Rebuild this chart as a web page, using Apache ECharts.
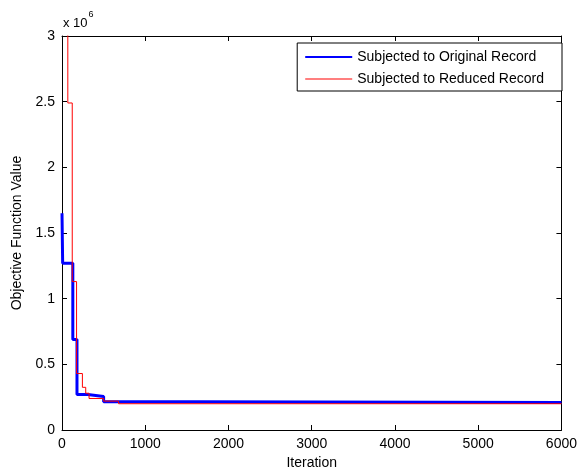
<!DOCTYPE html>
<html>
<head>
<meta charset="utf-8">
<script src="https://cdn.jsdelivr.net/npm/echarts@6/dist/echarts.min.js"></script>
<style>html,body{margin:0;padding:0;background:#fff}#c{width:580px;height:475px}</style>
</head>
<body>
<div id="c"></div>
<script>
var seriesNames = ['Subjected to Original Record', 'Subjected to Reduced Record'];
var originalIter  = [0,       8,       130,     180,     310,      500,      1630,     6000];
var originalValue = [1.65e6,  1.27e6,  0.69e6,  0.27e6,  0.255e6,  0.215e6,  0.209e6,  0.209e6];
var reducedIter   = [0,       70,      123,     175,     245,      285,      325,      500,     680,     6000];
var reducedValue  = [4.5e6,   2.49e6,  1.13e6,  0.43e6,  0.325e6,  0.28e6,   0.24e6,   0.22e6,  0.2e6,   0.2e6];
var xTicks = [0, 1000, 2000, 3000, 4000, 5000, 6000];
var yTickLabels = ['0', '0.5', '1', '1.5', '2', '2.5', '3'];

function pairs(xs, ys) { return xs.map(function (x, i) { return [x, ys[i]]; }); }

var font = 'Liberation Sans, Arial, Helvetica, sans-serif';
var fs = 14;
var chart = echarts.init(document.getElementById('c'), null, {renderer: 'canvas'});
chart.setOption({
  animation: false,
  backgroundColor: '#fff',
  grid: {left: 62, right: 14, top: 36, bottom: 42},
  textStyle: {fontFamily: font},
  legend: {
    right: 18, top: 43,
    orient: 'vertical',
    backgroundColor: '#fff',
    borderColor: '#000', borderWidth: 1,
    padding: [7, 18, 5, 8],
    itemGap: 8,
    itemWidth: 47, itemHeight: 14,
    textStyle: {fontFamily: font, fontSize: fs, color: '#000'},
    data: [
      {name: seriesNames[0], icon: 'path://M0,0 L0,0.01 M0,6 L47,6 L47,8 L0,8 Z M47,14 L47,13.99', itemStyle: {color: '#0000ff'}},
      {name: seriesNames[1], icon: 'path://M0,0 L0,0.01 M0,6.5 L47,6.5 L47,7.5 L0,7.5 Z M47,14 L47,13.99', itemStyle: {color: '#ff0000'}}
    ]
  },
  xAxis: [{
    type: 'value', min: 0, max: 6000, interval: 1000,
    name: 'Iteration', nameLocation: 'middle', nameGap: 26,
    nameTextStyle: {fontFamily: font, fontSize: fs, color: '#000'},
    axisLine: {show: true, lineStyle: {color: '#000', width: 1}},
    axisTick: {show: true, inside: true, length: 5, lineStyle: {color: '#000'}},
    axisLabel: {fontFamily: font, fontSize: fs, color: '#000', margin: 7,
      formatter: function (v) { return String(xTicks[Math.round(v / 1000)]); }},
    splitLine: {show: false}
  }, {
    type: 'value', min: 0, max: 6000, interval: 1000, position: 'top',
    axisLine: {show: true, onZero: false, lineStyle: {color: '#000', width: 1}},
    axisTick: {show: true, inside: true, length: 5, lineStyle: {color: '#000'}},
    axisLabel: {show: false}, splitLine: {show: false}
  }],
  yAxis: [{
    type: 'value', min: 0, max: 3e6, interval: 0.5e6,
    name: 'Objective Function Value', nameLocation: 'middle', nameGap: 33,
    nameTextStyle: {fontFamily: font, fontSize: fs, color: '#000'},
    axisLine: {show: true, lineStyle: {color: '#000', width: 1}},
    axisTick: {show: true, inside: true, length: 5, lineStyle: {color: '#000'}},
    axisLabel: {fontFamily: font, fontSize: fs, color: '#000', margin: 7,
      formatter: function (v) { return yTickLabels[Math.round(v / 0.5e6)]; }},
    splitLine: {show: false}
  }, {
    type: 'value', min: 0, max: 3e6, interval: 0.5e6, position: 'right',
    axisLine: {show: true, onZero: false, lineStyle: {color: '#000', width: 1}},
    axisTick: {show: true, inside: true, length: 5, lineStyle: {color: '#000'}},
    axisLabel: {show: false}, splitLine: {show: false}
  }],
  graphic: [{
    type: 'text', left: 63, top: 10,
    style: {
      text: '{a|x 10}{b|6}',
      rich: {
        a: {fontFamily: font, fontSize: 13, fill: '#000', verticalAlign: 'bottom', lineHeight: 20},
        b: {fontFamily: font, fontSize: 9, fill: '#000', verticalAlign: 'top', lineHeight: 20, padding: [0, 0, 10, 1]}
      }
    }
  }],
  series: [{
    name: seriesNames[0], type: 'line', step: 'end', showSymbol: false, symbol: 'none',
    clip: true, xAxisIndex: 0, yAxisIndex: 0, z: 2,
    lineStyle: {color: '#0000ff', width: 3}, itemStyle: {color: '#0000ff'},
    data: pairs(originalIter, originalValue)
  }, {
    name: seriesNames[1], type: 'line', step: 'end', showSymbol: false, symbol: 'none',
    clip: true, xAxisIndex: 0, yAxisIndex: 0, z: 3,
    lineStyle: {color: '#ff0000', width: 1}, itemStyle: {color: '#ff0000'},
    data: pairs(reducedIter, reducedValue)
  }]
});
</script>
</body>
</html>
